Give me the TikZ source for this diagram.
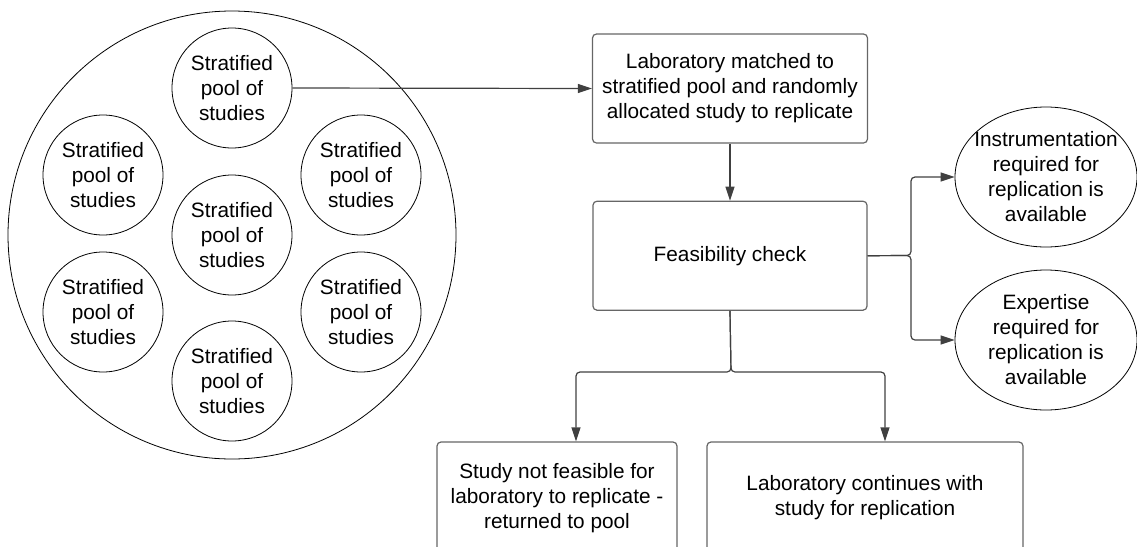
\documentclass[tikz,border=0pt]{standalone}
\usepackage{fontspec}
\setmainfont{Liberation Sans}
\usetikzlibrary{arrows.meta,shapes.geometric,positioning}

\begin{document}
\begin{tikzpicture}[x=0.5pt, y=-0.5pt,
  every node/.style={font=\fontsize{10.4}{12.5}\selectfont, align=center},
  strat/.style={circle,draw,line width=0.4pt,minimum size=60pt,inner sep=0pt},
  procbox/.style={draw=black!60,rounded corners=2pt,line width=0.6pt,minimum height=54.5pt},
  outcome/.style={ellipse,draw,line width=0.4pt,minimum width=91pt,minimum height=70pt,inner xsep=-4pt,inner ysep=0pt},
  conn/.style={draw=black!75,line width=0.6pt,rounded corners=2pt,-{Triangle[length=7pt,width=4.5pt]}}]
  \useasboundingbox (0,0) rectangle (1137,547);
  % Pool of strata
  \node[circle,draw,line width=0.4pt,minimum size=224pt,inner sep=0pt] (pool) at (232,235) {};
  \node[strat] (strat1) at (232,88) {Stratified\\pool of\\studies};
  \node[strat] (strat2) at (103,175) {Stratified\\pool of\\studies};
  \node[strat] (strat3) at (361,175) {Stratified\\pool of\\studies};
  \node[strat] (strat4) at (232,235) {Stratified\\pool of\\studies};
  \node[strat] (strat5) at (103,312) {Stratified\\pool of\\studies};
  \node[strat] (strat6) at (361,312) {Stratified\\pool of\\studies};
  \node[strat] (strat7) at (232,381) {Stratified\\pool of\\studies};
  % Allocation and check
  \node[procbox,minimum width=137.5pt] (matched) at (730,88.5)
    {Laboratory matched to\\stratified pool and randomly\\allocated study to replicate};
  \node[procbox,minimum width=137pt,below=28.5pt of matched] (feas) {Feasibility check};
  \node[outcome] (instr) at (1046,177) {Instrumentation\\required for\\replication is\\available};
  \node[outcome] (expert) at (1046,340) {Expertise\\required for\\replication is\\available};
  % Outcomes
  \node[procbox,minimum width=120pt,minimum height=56pt] (notfeas) at (557,498)
    {Study not feasible for\\laboratory to replicate -\\returned to pool};
  \node[procbox,minimum width=158pt,minimum height=56pt] (cont) at (865,498)
    {Laboratory continues with\\study for replication};
  % Connectors
  \coordinate (jr) at (911,255.5);
  \coordinate (jb) at (731,372);
  \draw[conn] (strat1.east) -- (matched.west);
  \draw[conn] (matched.south) -- (feas.north);
  \draw[conn] (feas.east) -- (jr) |- (instr.west);
  \draw[conn] (feas.east) -- (jr) |- (expert.west);
  \draw[conn] (feas.south) -- (jb) -| ([xshift=9.5pt]notfeas.north);
  \draw[conn] (feas.south) -- (jb) -| ([xshift=10pt]cont.north);
\end{tikzpicture}
\end{document}
